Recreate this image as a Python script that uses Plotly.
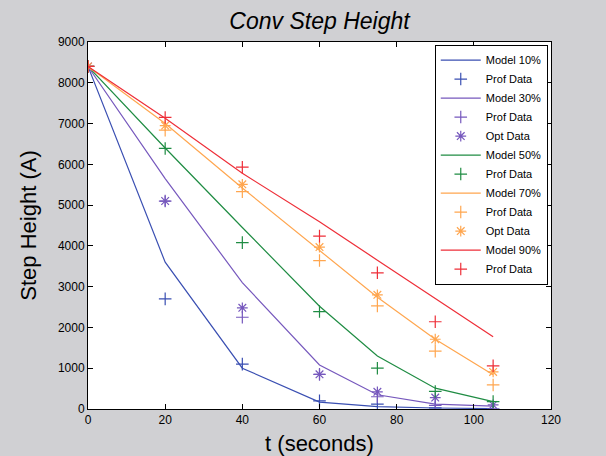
import plotly.graph_objects as go

t = [0, 20, 40, 60, 75, 90, 105]

model10 = [8400, 3600, 1000, 170, 60, 25, 10]
prof10 = [8400, 2700, 1100, 200, 120, 30, 0]
model30 = [8400, 5650, 3100, 1080, 350, 120, 70]
prof30 = [8400, 5100, 2250, 850, 300, 90, 0]
opt30 = [8400, 5100, 2480, 850, 420, 280, 100]
model50 = [8400, 6400, 4450, 2520, 1300, 510, 180]
prof50 = [8400, 6390, 4080, 2390, 1000, 430, 180]
model70 = [8400, 7000, 5420, 3880, 2740, 1710, 840]
prof70 = [8400, 6840, 5330, 3640, 2530, 1420, 590]
opt70 = [8400, 6950, 5510, 3970, 2800, 1710, 910]
model90 = [8400, 7130, 5780, 4590, 3650, 2700, 1770]
prof90 = [8400, 7150, 5930, 4240, 3340, 2140, 1060]

c_blue = "#3a4fb2"
c_purple = "#7658bd"
c_green = "#1f8c43"
c_orange = "#ffa64f"
c_red = "#ee2e38"

series = [
    ("Model 10%", model10, c_blue, "line"),
    ("Prof Data", prof10, c_blue, "cross-thin-open"),
    ("Model 30%", model30, c_purple, "line"),
    ("Prof Data", prof30, c_purple, "cross-thin-open"),
    ("Opt Data", opt30, c_purple, "asterisk-open"),
    ("Model 50%", model50, c_green, "line"),
    ("Prof Data", prof50, c_green, "cross-thin-open"),
    ("Model 70%", model70, c_orange, "line"),
    ("Prof Data", prof70, c_orange, "cross-thin-open"),
    ("Opt Data", opt70, c_orange, "asterisk-open"),
    ("Model 90%", model90, c_red, "line"),
    ("Prof Data", prof90, c_red, "cross-thin-open"),
]

fig = go.Figure()
for name, vals, col, kind in series:
    if kind == "line":
        fig.add_trace(go.Scatter(x=t, y=vals, mode="lines", name=name,
                                 line=dict(color=col, width=1.2)))
    else:
        fig.add_trace(go.Scatter(x=t, y=vals, mode="markers", name=name,
                                 marker=dict(symbol=kind, size=9, color=col,
                                             line=dict(color=col, width=1.2))))

fig.update_layout(
    width=606, height=456,
    margin=dict(l=88, r=55, t=42, b=47),
    paper_bgcolor="#d0d0d3",
    plot_bgcolor="white",
    font=dict(family="Liberation Sans, Arial", color="black", size=12),
    title=dict(text="<i>Conv Step Height</i>", x=0.5, xanchor="center",
               xref="paper", y=0.955, yanchor="middle",
               font=dict(size=23, color="black")),
    showlegend=True,
    legend=dict(x=0.993, y=0.993, xanchor="right", yanchor="top",
                bgcolor="white", bordercolor="black", borderwidth=1,
                font=dict(size=11), itemwidth=40, tracegroupgap=0),
)
fig.update_xaxes(range=[0, 120], tickvals=[0, 20, 40, 60, 80, 100, 120],
                 showgrid=False, zeroline=False, showline=True, linecolor="black",
                 linewidth=1, mirror="ticks", ticks="inside", ticklen=5,
                 tickcolor="black", automargin=False,
                 title=dict(text="t (seconds)", font=dict(size=22)))
fig.update_yaxes(range=[0, 9000], tickvals=list(range(0, 9001, 1000)),
                 showgrid=False, zeroline=False, showline=True, linecolor="black",
                 linewidth=1, mirror="ticks", ticks="inside", ticklen=5,
                 tickcolor="black", automargin=False,
                 title=dict(text="Step Height (A)", font=dict(size=22)))

fig.write_html("out.html")
